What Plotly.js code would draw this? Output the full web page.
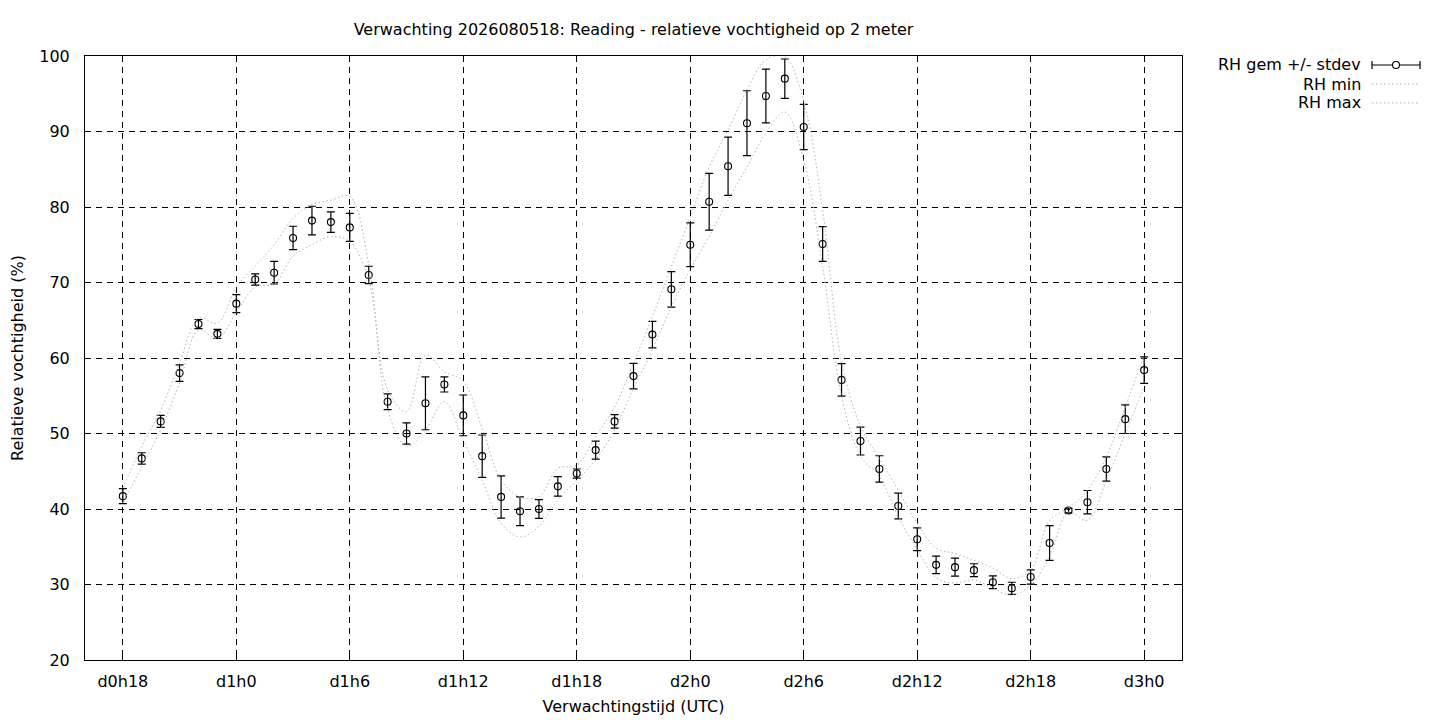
<!DOCTYPE html>
<html><head><meta charset="utf-8">
<script src="https://cdn.plot.ly/plotly-3.0.1.min.js"></script>
<style>html,body{margin:0;padding:0;background:#fff;} #chart{width:1440px;height:720px;}</style>
</head><body><div id="chart"></div>
<script>
// forecast hour offsets (hours since d0h0)
const hours = [18,19,20,21,22,23,24,25,26,27,28,29,30,31,32,33,34,35,36,37,38,39,40,41,42,43,44,45,
  46,47,48,49,50,51,52,53,54,55,56,57,58,59,60,61,62,63,64,65,66,67,68,69,70,71,72];
const rhMean = [41.7,46.7,51.6,58.0,64.5,63.2,67.2,70.4,71.3,75.9,78.2,78.0,77.3,71.0,54.2,50.0,54.0,56.5,52.4,47.0,41.6,39.7,40.0,43.0,44.7,47.8,51.6,57.6,
  63.1,69.1,75.0,80.7,85.4,91.1,94.7,97.0,90.6,75.1,57.1,49.0,45.3,40.4,36.0,32.6,32.3,31.9,30.3,29.5,31.0,35.5,39.8,40.9,45.3,51.9,58.4];
const rhStdev = [1.0,0.75,0.8,1.1,0.6,0.6,1.2,0.75,1.5,1.55,1.9,1.35,1.85,1.15,1.05,1.4,3.5,1.0,2.7,2.8,2.8,1.9,1.25,1.3,0.6,1.2,0.9,1.7,
  1.75,2.35,2.9,3.75,3.85,4.3,3.55,2.6,3.0,2.3,2.15,1.85,1.75,1.7,1.5,1.15,1.2,0.85,0.85,0.8,0.95,2.3,0.3,1.55,1.6,1.9,1.75];
const rhMin = [40.8,45.6,50.5,56.7,63.7,62.6,66.0,69.4,69.8,73.5,75.0,76.1,75.4,70.3,53.1,48.3,50.5,54.2,49.1,43.8,38.1,36.3,37.7,41.2,43.8,46.5,50.5,56.0,
  61.1,66.8,71.7,76.1,80.9,85.3,89.8,92.6,86.2,72.1,55.0,47.0,44.3,39.0,34.6,30.9,30.2,30.6,29.5,28.6,29.9,33.7,39.6,38.5,43.8,50.0,56.2];
const rhMax = [42.8,48.3,53.1,59.3,65.3,64.6,69.4,72.2,75.0,78.5,80.3,80.9,81.4,72.5,55.8,52.9,60.4,58.2,56.9,50.7,43.8,41.6,41.6,45.4,45.8,49.6,53.5,59.3,
  65.5,72.1,78.7,85.3,90.2,95.5,99.5,99.9,94.0,79.6,59.5,51.0,46.7,42.5,38.1,34.8,34.1,33.2,32.2,30.8,31.9,38.5,40.1,42.5,46.9,53.5,60.4];

const tickHours = [18,24,30,36,42,48,54,60,66,72];
const tickLabels = ['d0h18','d1h0','d1h6','d1h12','d1h18','d2h0','d2h6','d2h12','d2h18','d3h0'];
const yTicks = [20,30,40,50,60,70,80,90,100];
const seriesNames = ['RH gem +/- stdev','RH min','RH max'];
const titleText = 'Verwachting 2026080518: Reading - relatieve vochtigheid op 2 meter';
const xTitle = 'Verwachtingstijd (UTC)';
const yTitle = 'Relatieve vochtigheid (%)';

const FONT = {family:'DejaVu Sans, sans-serif', size:16, color:'#000'};
const GRAY = '#b4b4b4';
const DOTS = '1.5px,2.5px';

const traces = [
  {x:hours, y:rhMean, name:seriesNames[0], type:'scatter', mode:'markers',
   marker:{symbol:'circle-open', size:7, color:'#000', line:{width:1.1, color:'#000'}},
   error_y:{type:'data', array:rhStdev, visible:true, color:'#000', thickness:1.2, width:4}},
  {x:hours, y:rhMin, name:seriesNames[1], type:'scatter', mode:'lines',
   line:{color:GRAY, width:1, dash:DOTS, shape:'spline', smoothing:1}},
  {x:hours, y:rhMax, name:seriesNames[2], type:'scatter', mode:'lines',
   line:{color:GRAY, width:1, dash:DOTS, shape:'spline', smoothing:1}}
];

// custom legend (text left, sample right, as in gnuplot)
const legTextX = 1.1650, legS0 = 1.1732, legS1 = 1.2170;
const legY = [0.9851, 0.9536, 0.9222];
const annotations = seriesNames.map((n,i)=>({xref:'paper', yref:'paper', x:legTextX, y:legY[i],
  xanchor:'right', yanchor:'middle', text:n, showarrow:false, font:FONT}));
const shapes = [
  {type:'line', xref:'paper', yref:'paper', x0:legS0, x1:legS1, y0:legY[0], y1:legY[0], line:{color:'#000', width:1.2}},
  {type:'line', xref:'paper', yref:'paper', x0:legS0, x1:legS0, ysizemode:'pixel', yanchor:legY[0], y0:-4, y1:4, line:{color:'#000', width:1.2}},
  {type:'line', xref:'paper', yref:'paper', x0:legS1, x1:legS1, ysizemode:'pixel', yanchor:legY[0], y0:-4, y1:4, line:{color:'#000', width:1.2}},
  {type:'circle', xref:'paper', yref:'paper', xsizemode:'pixel', ysizemode:'pixel', xanchor:(legS0+legS1)/2, yanchor:legY[0],
   x0:-3.5, x1:3.5, y0:-3.5, y1:3.5, fillcolor:'#fff', line:{color:'#000', width:1.1}},
  {type:'line', xref:'paper', yref:'paper', x0:legS0, x1:legS1, y0:legY[1], y1:legY[1], line:{color:GRAY, width:1, dash:DOTS}},
  {type:'line', xref:'paper', yref:'paper', x0:legS0, x1:legS1, y0:legY[2], y1:legY[2], line:{color:GRAY, width:1, dash:DOTS}}
];

const axisCommon = {showline:true, linecolor:'#000', linewidth:1, mirror:'allticks',
  ticks:'inside', ticklen:6, tickcolor:'#000', tickwidth:1,
  showgrid:true, gridcolor:'#000', gridwidth:1, griddash:'6px,5px', zeroline:false,
  tickfont:FONT};

const layout = {
  width:1440, height:720, paper_bgcolor:'#fff', plot_bgcolor:'#fff',
  margin:{l:85, r:258, t:56, b:60},
  font:FONT, showlegend:false,
  title:{text:titleText, font:FONT, x:0.5, xref:'paper', y:1-29/720, yref:'container', yanchor:'middle'},
  xaxis:Object.assign({}, axisCommon, {range:[16,74], tickmode:'array', tickvals:tickHours, ticktext:tickLabels,
    ticklabelstandoff:7, title:{text:xTitle, font:FONT, standoff:10}}),
  yaxis:Object.assign({}, axisCommon, {range:[20,100], tickmode:'array', tickvals:yTicks,
    ticklabelstandoff:11, title:{text:yTitle, font:FONT, standoff:11}}),
  annotations:annotations, shapes:shapes
};

Plotly.newPlot('chart', traces, layout, {staticPlot:true, displayModeBar:false});
</script></body></html>
